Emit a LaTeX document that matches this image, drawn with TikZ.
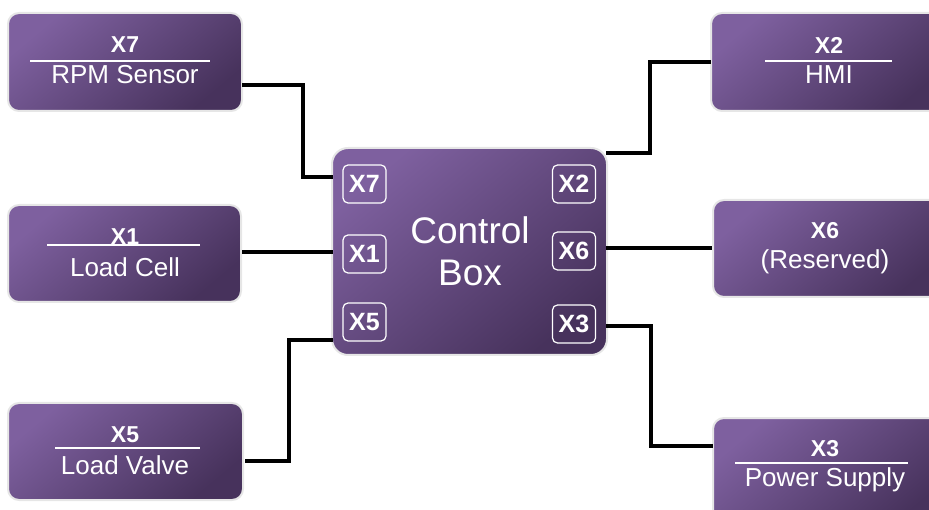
\documentclass[tikz,border=0pt]{standalone}
\usepackage{fontspec}
\setmainfont{Liberation Sans}
\definecolor{plight}{HTML}{7E609F}
\definecolor{pdark}{HTML}{47325C}
\definecolor{rim}{HTML}{E6E6E6}
\begin{document}
\begin{tikzpicture}[x=1pt,y=-1pt,
  dev/.style={draw=rim,line width=2pt,rounded corners=11pt,
    top color=plight,bottom color=pdark,shading angle=40},
  head/.style={text=white,font=\fontsize{23}{23}\selectfont\bfseries,inner sep=0pt},
  sub/.style={text=white,font=\fontsize{26}{26}\selectfont,inner sep=0pt},
  port/.style={draw=white,line width=1.2pt,rounded corners=5pt,minimum width=43pt,
    minimum height=38pt,inner sep=0pt,text=white,font=\fontsize{25}{25}\selectfont\bfseries},
  sep/.style={draw=white,line width=1.5pt},
  wire/.style={draw=black,line width=3.2pt}]
\useasboundingbox (0,0) rectangle (929,510);

% peripheral devices
\path[dev] (8,13) rectangle (242,111);
\path[dev] (8,205) rectangle (241,302);
\path[dev] (8,403) rectangle (243,500);
\path[dev] (711,13) rectangle (945,111);
\path[dev] (713,200) rectangle (945,297);
\path[dev] (713,418) rectangle (945,525);

% control box
\path[dev,rounded corners=16pt] (332,148) rectangle (607,355);

% headings and names
\node[head] (h7) at (125,45) {X7};
\node[sub]  (n7) at (125,75) {RPM Sensor};
\path[sep] (30,61) -- (210,61);
\node[head] (h1) at (125,237) {X1};
\node[sub]  (n1) at (125,267) {Load Cell};
\path[sep] (47,245) -- (200,245);
\node[head] (h5) at (125,435) {X5};
\node[sub]  (n5) at (125,465) {Load Valve};
\path[sep] (55,448) -- (200,448);
\node[head] (h2) at (829,45) {X2};
\node[sub]  (n2) at (829,75) {HMI};
\path[sep] (765,61) -- (892,61);
\node[head] (h6) at (825,231) {X6};
\node[sub]  (n6) at (825,262) {(Reserved)};
\node[head] (h3) at (825,449) {X3};
\node[sub]  (n3) at (825,480) {Power Supply};
\path[sep] (735,463) -- (908,463);

\node[text=white,font=\fontsize{37}{42}\selectfont,align=center,inner sep=0pt] (cb) at (470,251) {Control\\Box};

% ports
\node[port] (p7) at (364.5,184) {X7};
\node[port] (p1) at (364.5,254) {X1};
\node[port] (p5) at (364.5,322) {X5};
\node[port] (p2) at (574,184) {X2};
\node[port] (p6) at (574,251) {X6};
\node[port] (p3) at (574,324) {X3};

% wiring
\coordinate (a7) at (242,85);  \coordinate (b7) at (333,177);
\coordinate (a1) at (242,252); \coordinate (b1) at (333,252);
\coordinate (a5) at (245,461); \coordinate (b5) at (333,340);
\coordinate (a2) at (606,153); \coordinate (b2) at (711,62);
\coordinate (a6) at (606,248); \coordinate (b6) at (712,248);
\coordinate (a3) at (606,326); \coordinate (b3) at (713,446);
\path[wire] (a7) -| (303,177) -- (b7);
\path[wire] (a1) -- (b1);
\path[wire] (a5) -| (289,340) -- (b5);
\path[wire] (a2) -| (650,62) -- (b2);
\path[wire] (a6) -- (b6);
\path[wire] (a3) -| (651,446) -- (b3);
\end{tikzpicture}
\end{document}
